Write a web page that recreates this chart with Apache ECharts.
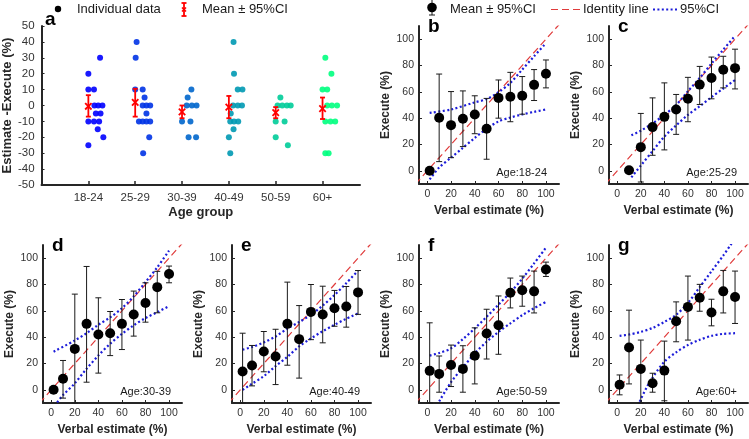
<!DOCTYPE html>
<html><head><meta charset="utf-8">
<script src="https://cdn.jsdelivr.net/npm/echarts@6/dist/echarts.min.js"></script>
<style>html,body{margin:0;padding:0;background:#fff}#c{width:749px;height:439px}</style>
</head><body><div id="c"></div><script>
// ---------- Panel a data ----------
const ageGroups = ['18-24','25-29','30-39','40-49','50-59','60+'];
const groupColors = ['#0000ff','#0033e6','#0066cc','#0099b3','#00cc99','#00ff80'];
const diff1824 = [30,20,10,10,0,0,0,-5,-5,-10,-10,-10,-15,-20,-25];
const jit1824  = [.25,0,0,.12,.13,.21,.3,.16,.26,0,.12,.23,.2,.32,0];
const diff2529 = [40,30,10,10,5,0,0,0,-5,-10,-10,-10,-10,-20,-30];
const jit2529  = [.03,.01,0,.16,.2,.16,.24,.32,.24,.08,.16,.24,.32,.3,.17];
const diff3039 = [10,5,0,0,0,-10,-10,-20,-20];
const jit3039  = [.2,.12,.1,.21,.31,0,.18,.14,.3];
const diff4049 = [40,20,10,10,0,0,0,-5,-10,-10,-10,-15,-20,-30];
const jit4049  = [.1,.11,.19,.29,.09,.19,.28,.04,.03,.11,.2,.1,0,.03];
const diff5059 = [5,0,0,0,0,-10,-10,-20,-25];
const jit5059  = [.1,.04,.14,.24,.32,0,.19,0,.26];
const diff60p  = [30,20,10,10,0,0,0,-10,-10,-10,-30,-30];
const jit60p   = [.06,.19,0,.1,.1,.2,.31,.06,.17,.27,.06,.13];
const meanDiff = [-0.5, 2, -4, -1, -4.5, -2];
const ciDiffLow  = [-7, -7, -8, -8, -8, -8.5];
const ciDiffHigh = [6.5, 10.5, 0, 6, -1, 5];
const diffTicks = [-50,-40,-30,-20,-10,0,10,20,30,40,50];

// ---------- Panels b-g data ----------
const verbalX  = [2,10,20,30,40,50,60,70,80,90,100];
const verbalXc = [10,20,30,40,50,60,70,80,90,100];
const pctTicks = [0,20,40,60,80,100];
const identityLine = [-10, 115];

const execB = [0,40.3,34.7,39.5,42.8,32,55.4,56.2,57,65.3,73.8];
const lowB  = [0,7,10,18.4,28.2,8.8,40,37.3,43,53.4,63];
const highB = [0,73.5,60.2,60.7,57,55,69,74.8,71.6,76.9,84.2];
const bandUpXB = [2,20,40,50,60,70,80,90,100];
const bandUpB  = [44,46.6,52,54.5,59.7,66.8,76.9,87,97];
const bandLoXB = [2,10,20,30,40,50,60,70,80,90,100];
const bandLoB  = [-6.5,2.5,10,17.5,25,32,37.5,40.5,42.8,44.8,46.6];

const execC = [0.5,18,33.2,41,46.6,54.7,65.5,70.5,76.8,78];
const lowC  = [0.5,-8.5,11.8,15.9,27.7,37.3,50.4,54.7,63,62.2];
const highC = [0.5,43.6,55.4,66.8,58,71,79.3,86.4,87,92.4];
const bandUpXC = [12,20,30,40,50,60,70,80,90,100];
const bandUpC  = [27,30.5,36,42.5,50,60.5,70.5,81.5,92,102.5];
const bandLoXC = [12,20,30,40,50,60,70,80,90,100];
const bandLoC  = [-5,4,15,26,34.5,42.5,49,56,62.5,69];

const execD = [0,8.4,31.1,50.1,42,43,50.1,57.2,66,78,88];
const lowD  = [0,-6.3,-10,5.8,12.7,26,30.6,40.8,51.4,58.5,81.3];
const highD = [0,22.3,72.7,93.7,69.9,59.5,68.6,75,81.3,90,94];
const bandUpXD = [2,20,30,40,50,60,70,80,90,100];
const bandUpD  = [29,37.5,43,49.4,55,62,71,81.8,93,105.8];
const bandLoXD = [5,10,20,30,40,50,60,70,80,90,100];
const bandLoD  = [-9.5,-4,5,16,26,35,42.5,49,54.5,59,63.5];

const execE = [13.9,18.5,29.1,25.3,50.1,38.5,59.2,57.2,62,63.3,74];
const lowE  = [-10,3,13.7,4,18.7,8.9,38.1,35.7,48.3,47.6,57.3];
const highE = [43,33.7,44.3,46,81.8,64,80,78.7,75.5,78.5,90.6];
const bandUpXE = [2,10,20,30,40,50,60,70,80,90,100];
const bandUpE  = [30.5,32.5,36,40.5,46.5,51.5,57,64,72,81,90.5];
const bandLoXE = [2,10,20,30,40,50,60,70,80,90,100];
const bandLoE  = [0,4.6,10.4,18,25,33,39,44.5,49.4,54,58];

const execF = [14.4,12.1,18.9,15.9,25.9,42.8,49.1,73.8,75.6,74.8,91.4];
const lowF  = [-10,-1.8,2.5,-1.8,4.5,23.4,27,62.2,63.5,58.4,86.1];
const highF = [50.9,25.7,34,33.5,47.1,61.2,71.3,84.9,86.4,90.2,97];
const bandUpXF = [2,10,20,30,40,50,60,70,80,90,100];
const bandUpF  = [26,28,31.5,38.5,46.6,55.5,64.7,74,84.4,96,108];
const bandLoXF = [10,20,30,40,50,60,70,80,90,100];
const bandLoF  = [-8.8,5.8,17,27.7,36.5,44,50.5,56.7,62,66.8];

const execG = [3.8,32.2,15.9,5,14.6,52.1,63,70,58.7,74.8,70.5];
const lowG  = [-3.8,4.5,-10,-1.8,-8.3,36.5,37.8,59.7,48.6,58.4,50.4];
const highG = [11.3,60.5,37.8,12.6,37,66.8,86.4,80.1,68.8,90.7,90.2];
const bandUpXG = [2,10,20,30,40,50,60,70,80,90,97];
const bandUpG  = [41,42,44,47,51.6,57,66,78,90,102,111];
const bandLoXG = [19,25,30,40,50,60,70,80,90,100];
const bandLoG  = [-9,2,9.3,21.4,28.5,34,38,41,42.5,43];

const panelLetters = ['b','c','d','e','f','g'];
const ageTexts = ['Age:18-24','Age:25-29','Age:30-39','Age:40-49','Age:50-59','Age:60+'];

// ---------- layout / styles ----------
const FONT = '"Liberation Sans", Arial, Helvetica, sans-serif';
const AX = '#262626';
const gridA = {left:38, top:26, width:322, height:159};
const panelGrids = [
  {left:419, top:26, width:140, height:158},
  {left:609, top:26, width:139, height:158},
  {left:43,  top:245, width:139, height:158},
  {left:232, top:245, width:139, height:158},
  {left:419, top:245, width:140, height:158},
  {left:609, top:245, width:139, height:158}
];
const panels = [
  {x:verbalX,  e:execB, lo:lowB, hi:highB, ux:bandUpXB, u:bandUpB, lx:bandLoXB, l:bandLoB},
  {x:verbalXc, e:execC, lo:lowC, hi:highC, ux:bandUpXC, u:bandUpC, lx:bandLoXC, l:bandLoC},
  {x:verbalX,  e:execD, lo:lowD, hi:highD, ux:bandUpXD, u:bandUpD, lx:bandLoXD, l:bandLoD},
  {x:verbalX,  e:execE, lo:lowE, hi:highE, ux:bandUpXE, u:bandUpE, lx:bandLoXE, l:bandLoE},
  {x:verbalX,  e:execF, lo:lowF, hi:highF, ux:bandUpXF, u:bandUpF, lx:bandLoXF, l:bandLoF},
  {x:verbalX,  e:execG, lo:lowG, hi:highG, ux:bandUpXG, u:bandUpG, lx:bandLoXG, l:bandLoG}
];
const groupDiffs = [diff1824,diff2529,diff3039,diff4049,diff5059,diff60p];
const groupJits  = [jit1824,jit2529,jit3039,jit4049,jit5059,jit60p];

function axisLineStyle(){ return {show:true, onZero:false, lineStyle:{color:AX, width:2}}; }

function errRender(capW, color, width, withX){
  return function(params, api){
    const x = api.value(0), lo = api.value(1), hi = api.value(2);
    const a = api.coord([x, lo]), b = api.coord([x, hi]);
    const st = {stroke:color, lineWidth:width, fill:null};
    const ch = [
      {type:'line', shape:{x1:a[0], y1:a[1], x2:b[0], y2:b[1]}, style:st},
      {type:'line', shape:{x1:a[0]-capW, y1:a[1], x2:a[0]+capW, y2:a[1]}, style:st},
      {type:'line', shape:{x1:b[0]-capW, y1:b[1], x2:b[0]+capW, y2:b[1]}, style:st}
    ];
    if (withX){
      const m = api.coord([x, api.value(3)]);
      const s = 3.2;
      ch.push({type:'line', shape:{x1:m[0]-s, y1:m[1]-s, x2:m[0]+s, y2:m[1]+s}, style:st});
      ch.push({type:'line', shape:{x1:m[0]-s, y1:m[1]+s, x2:m[0]+s, y2:m[1]-s}, style:st});
    }
    return {type:'group', children:ch};
  };
}

const grids = [gridA].concat(panelGrids);
const xAxes = [{
  gridIndex:0, type:'value', min:0, max:6.8,
  name:'Age group', nameLocation:'middle', nameGap:21,
  nameTextStyle:{fontFamily:FONT, fontWeight:'bold', fontSize:13, color:AX},
  axisLine:axisLineStyle(),
  axisTick:{show:true, inside:true, length:4, lineStyle:{color:AX, width:1.5}, customValues:[1,2,3,4,5,6]},
  axisLabel:{customValues:[1,2,3,4,5,6], formatter:v=>ageGroups[Math.round(v)-1]||'', fontFamily:FONT, fontSize:11.5, color:'#333', margin:7},
  splitLine:{show:false}
}];
const yAxes = [{
  gridIndex:0, type:'value', min:-50, max:50,
  name:'Estimate -Execute (%)', nameLocation:'middle', nameGap:23,
  nameTextStyle:{fontFamily:FONT, fontWeight:'bold', fontSize:13, color:AX},
  axisLine:axisLineStyle(),
  axisTick:{show:true, inside:true, length:3, lineStyle:{color:AX}, customValues:diffTicks},
  axisLabel:{customValues:diffTicks, fontFamily:FONT, fontSize:11.5, color:'#333', margin:7},
  splitLine:{show:false}
}];
panelGrids.forEach((g,i)=>{
  xAxes.push({
    gridIndex:i+1, type:'value', min:-7, max:111,
    name:'Verbal estimate (%)', nameLocation:'middle', nameGap:21,
    nameTextStyle:{fontFamily:FONT, fontWeight:'bold', fontSize:12, color:AX},
    axisLine:axisLineStyle(),
    axisTick:{show:true, inside:true, length:3, lineStyle:{color:AX}, customValues:pctTicks},
    axisLabel:{customValues:pctTicks, fontFamily:FONT, fontSize:10.5, color:'#333', margin:5},
    splitLine:{show:false}
  });
  yAxes.push({
    gridIndex:i+1, type:'value', min:-10, max:110,
    name:'Execute (%)', nameLocation:'middle', nameGap:27,
    nameTextStyle:{fontFamily:FONT, fontWeight:'bold', fontSize:12, color:AX},
    axisLine:axisLineStyle(),
    axisTick:{show:true, inside:true, length:3, lineStyle:{color:AX}, customValues:pctTicks},
    axisLabel:{customValues:pctTicks, fontFamily:FONT, fontSize:10.5, color:'#333', margin:5},
    splitLine:{show:false}
  });
});

const series = [];
// panel a individual data
groupDiffs.forEach((vals,gi)=>{
  series.push({
    type:'scatter', xAxisIndex:0, yAxisIndex:0, symbol:'circle', symbolSize:6,
    itemStyle:{color:groupColors[gi], opacity:0.9}, z:2, silent:true,
    data: vals.map((v,k)=>[gi+1+groupJits[gi][k], v])
  });
});
series.push({
  type:'custom', xAxisIndex:0, yAxisIndex:0, z:5, silent:true,
  renderItem: errRender(2.5, '#ff0000', 1.8, true),
  encode:{x:0, y:[1,2,3]},
  data: meanDiff.map((m,k)=>[k+1, ciDiffLow[k], ciDiffHigh[k], m])
});
// panels b-g
panels.forEach((p,i)=>{
  const ax = i+1;
  series.push({
    type:'line', xAxisIndex:ax, yAxisIndex:ax, symbol:'none', silent:true, z:2, clip:true,
    lineStyle:{color:'#e03c3c', width:1.2, type:[7,4]},
    data: identityLine.map(v=>[v,v])
  });
  series.push({
    type:'line', xAxisIndex:ax, yAxisIndex:ax, symbol:'none', silent:true, z:3, clip:true, smooth:0.3,
    lineStyle:{color:'#1c1cd9', width:2.2, type:[2,2.4]},
    data: p.ux.map((x,k)=>[x, p.u[k]])
  });
  series.push({
    type:'line', xAxisIndex:ax, yAxisIndex:ax, symbol:'none', silent:true, z:3, clip:true, smooth:0.3,
    lineStyle:{color:'#1c1cd9', width:2.2, type:[2,2.4]},
    data: p.lx.map((x,k)=>[x, p.l[k]])
  });
  series.push({
    type:'custom', xAxisIndex:ax, yAxisIndex:ax, z:4, silent:true,
    renderItem: errRender(3, '#1a1a1a', 1, false),
    encode:{x:0, y:[1,2]},
    data: p.x.map((x,k)=>[x, p.lo[k], p.hi[k]])
  });
  series.push({
    type:'scatter', xAxisIndex:ax, yAxisIndex:ax, symbol:'circle', symbolSize:10, z:6, silent:true,
    itemStyle:{color:'#000', opacity:1},
    data: p.x.map((x,k)=>[x, p.e[k]])
  });
});

// ---------- graphics: panel letters, age labels, legends ----------
const graphic = [];
function txt(x,y,text,font,align,vAlign,fill){
  graphic.push({type:'text', x:x, y:y, silent:true, z:100,
    style:{text:text, font:font, fill:fill||'#000', align:align||'left', verticalAlign:vAlign||'middle',
           textAlign:align||'left', textVerticalAlign:vAlign||'middle'}});
}
function seg(x1,y1,x2,y2,stroke,w,dash){
  graphic.push({type:'line', silent:true, z:100, shape:{x1:x1,y1:y1,x2:x2,y2:y2},
    style:{stroke:stroke, lineWidth:w, lineDash:dash||null}});
}
const LET = 'bold 19px ' + FONT;
txt(gridA.left+7, 19.5, 'a', LET);
panelGrids.forEach((g,i)=>{
  txt(g.left+9, g.top+1, panelLetters[i], LET);
  txt(g.left+128, g.top+g.height-11, ageTexts[i], '11px '+FONT, 'right', 'middle', '#1a1a1a');
});
// legend a
graphic.push({type:'circle', silent:true, z:100, shape:{cx:58, cy:9, r:3.2}, style:{fill:'#000'}});
txt(77, 9.5, 'Individual data', '13px '+FONT, 'left', 'middle', '#1a1a1a');
seg(184,3,184,16,'#ff0000',1.8); seg(181.5,3,186.5,3,'#ff0000',1.8); seg(181.5,16,186.5,16,'#ff0000',1.8);
seg(182,7.5,186,11.5,'#ff0000',1.6); seg(182,11.5,186,7.5,'#ff0000',1.6);
txt(202, 9.5, 'Mean \u00b1 95%CI', '13px '+FONT, 'left', 'middle', '#1a1a1a');
// legend b-g
seg(432,0,432,15,'#1a1a1a',1); seg(429,15,435,15,'#1a1a1a',1);
graphic.push({type:'circle', silent:true, z:100, shape:{cx:432, cy:7.5, r:4.8}, style:{fill:'#000'}});
txt(450, 9.5, 'Mean \u00b1 95%CI', '13px '+FONT, 'left', 'middle', '#1a1a1a');
seg(551,9.5,580,9.5,'#e03c3c',1.2,[7,4]);
txt(583, 9.5, 'Identity line', '13px '+FONT, 'left', 'middle', '#1a1a1a');
seg(653,9.5,678,9.5,'#1c1cd9',2.2,[2,2.4]);
txt(680, 9.5, '95%CI', '13px '+FONT, 'left', 'middle', '#1a1a1a');

const chart = echarts.init(document.getElementById('c'), null, {renderer:'canvas'});
chart.setOption({
  animation:false, backgroundColor:'#fff',
  textStyle:{fontFamily:FONT},
  grid:grids, xAxis:xAxes, yAxis:yAxes, series:series, graphic:graphic
});
</script></body></html>
